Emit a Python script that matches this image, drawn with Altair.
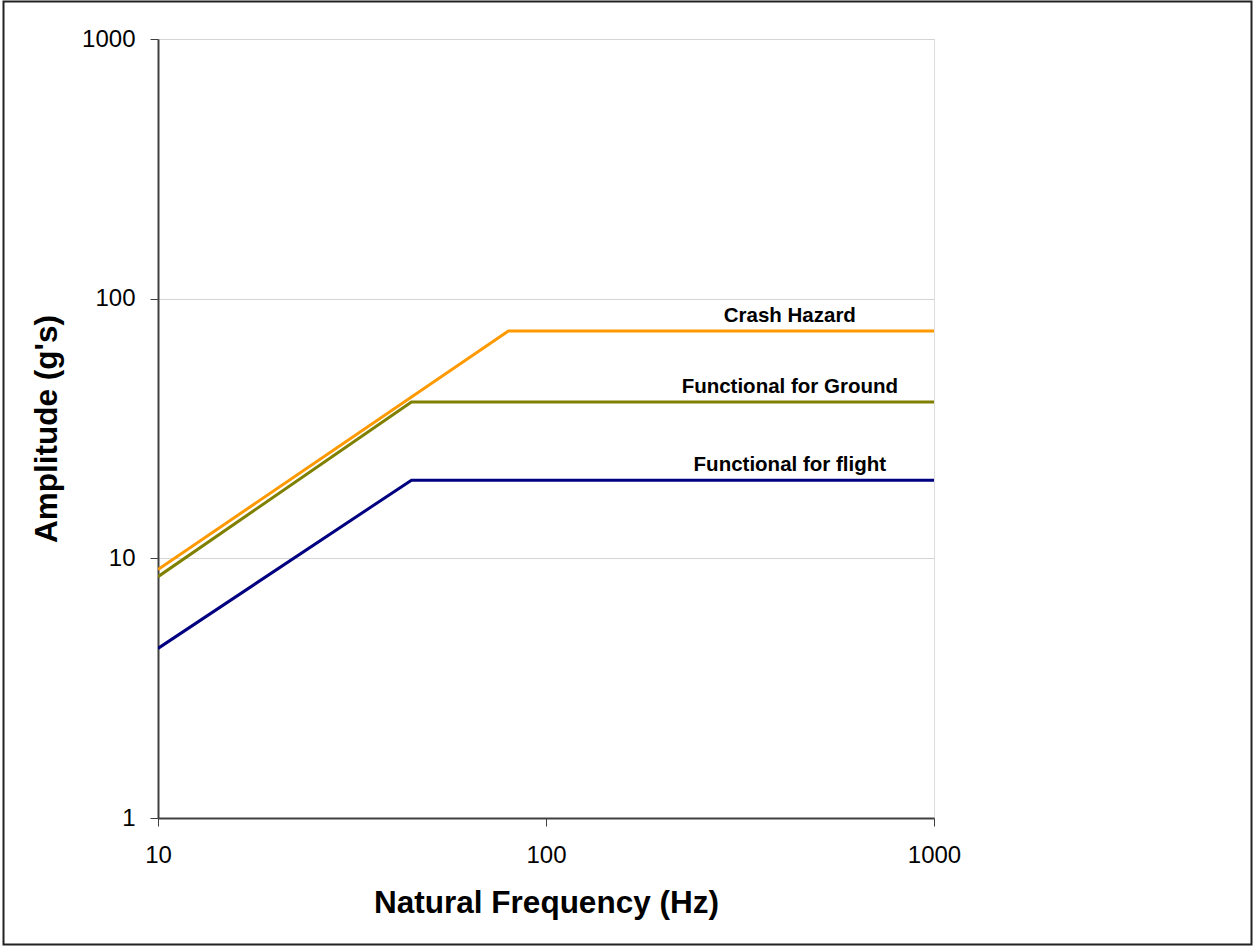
import altair as alt
import pandas as pd

# Shock response envelopes: breakpoints (Hz) and amplitude (g)
series_names = ["Crash Hazard", "Functional for Ground", "Functional for flight"]
crash_freq = [10, 80, 1000]
crash_amp = [9.05, 75, 75]
ground_freq = [10, 45, 1000]
ground_amp = [8.5, 40, 40]
flight_freq = [10, 45, 1000]
flight_amp = [4.5, 20, 20]
line_colors = ["#FF9900", "#808000", "#000080"]

label_freq = [425, 425, 425]
label_amp = [75, 40, 20]

x_ticks = [10, 100, 1000]
y_ticks = [1, 10, 100, 1000]

rows = []
for name, fs, amps in zip(series_names,
                          [crash_freq, ground_freq, flight_freq],
                          [crash_amp, ground_amp, flight_amp]):
    for order, (f, a) in enumerate(zip(fs, amps)):
        rows.append({"series": name, "freq": f, "amp": a, "order": order})
df = pd.DataFrame(rows)

labels = pd.DataFrame({"series": series_names, "freq": label_freq, "amp": label_amp})

W, H = 776, 779

x_scale = alt.Scale(type="log", domain=[10, 1000])
y_scale = alt.Scale(type="log", domain=[1, 1000])

x_axis = alt.Axis(
    title="Natural Frequency (Hz)", values=x_ticks, format="d", grid=False,
    domainColor="#404040", domainWidth=2, tickColor="#404040", tickSize=8, tickWidth=1,
    labelFontSize=24, labelColor="#000", labelPadding=17, labelFlush=False,
    titleFontSize=31.5, titleFontWeight="bold", titleColor="#000", titlePadding=20,
)
y_axis = alt.Axis(
    title="Amplitude (g's)", values=y_ticks, format="d", grid=True,
    gridColor="#d4d4d4", gridWidth=1,
    domainColor="#404040", domainWidth=2, tickColor="#404040", tickSize=8, tickWidth=1,
    labelFontSize=24, labelColor="#000", labelPadding=15, labelFlush=False,
    titleFontSize=31.5, titleFontWeight="bold", titleColor="#000", titlePadding=18,
)

lines = alt.Chart(df).mark_line(strokeWidth=3, clip=True).encode(
    x=alt.X("freq:Q", scale=x_scale, axis=x_axis),
    y=alt.Y("amp:Q", scale=y_scale, axis=y_axis),
    color=alt.Color("series:N", scale=alt.Scale(domain=series_names, range=line_colors), legend=None),
    order="order:Q",
    detail="series:N",
)

text = alt.Chart(labels).mark_text(
    font="Liberation Sans", fontSize=20.5, fontWeight="bold", color="#000",
    align="center", baseline="alphabetic", dy=-9,
).encode(
    x=alt.X("freq:Q", scale=x_scale),
    y=alt.Y("amp:Q", scale=y_scale),
    text="series:N",
)

# Outer frame around the whole figure
frame = alt.Chart(pd.DataFrame({"k": [0]})).mark_rect(
    fill=None, stroke="#222", strokeWidth=2, clip=False
).encode(
    x=alt.value(-154.5), x2=alt.value(1093.5),
    y=alt.value(-37.5), y2=alt.value(905.5),
)

chart = alt.layer(lines, text, frame).properties(
    width=W, height=H,
    autosize=alt.AutoSizeParams(type="none"),
    padding={"left": 158, "top": 39, "right": 320, "bottom": 128},
).configure_view(
    stroke="#888888", strokeWidth=2
).configure_axis(
    labelFont="Liberation Sans", titleFont="Liberation Sans"
).configure(background="white")

chart.save("out.html", embed_options={"renderer": "svg", "actions": False})
